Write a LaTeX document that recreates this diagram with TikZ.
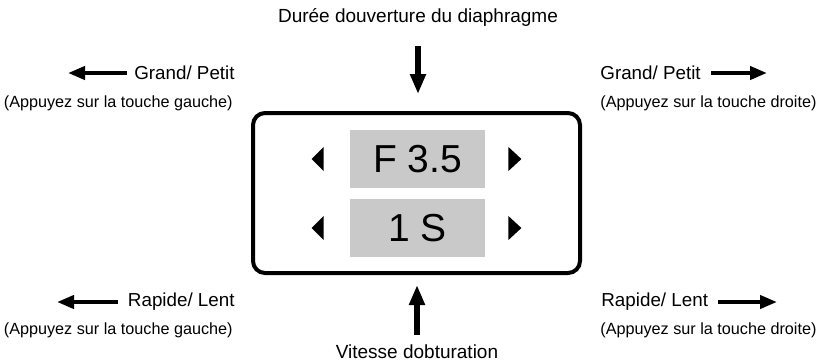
\documentclass[tikz,border=0pt]{standalone}
\usepackage{fontspec}
\setmainfont{Liberation Sans}
\usetikzlibrary{arrows.meta}

\tikzset{
  ttl/.style={font=\fontsize{9.5}{11}\selectfont, inner sep=0pt},
  lbl/.style={font=\fontsize{9.4}{11}\selectfont, inner sep=0pt},
  hint/.style={font=\fontsize{8.1}{10}\selectfont, inner sep=0pt},
  panel/.style={draw, line width=2pt, rounded corners=6pt, minimum width=163.5pt, minimum height=80pt},
  valbox/.style={fill=black!21, minimum width=67.5pt, minimum height=29pt, inner sep=0pt, font=\fontsize{19.5}{22}\selectfont},
  vptr/.style={line width=2.6pt, -{Triangle[length=10pt,width=7.5pt]}},
  hptr/.style={line width=2pt, -{Triangle[length=8.5pt,width=6.5pt]}},
}

\begin{document}
\begin{tikzpicture}[x=0.5pt,y=-0.5pt]
    \useasboundingbox (0,0) rectangle (829,361);

    % display panel
    \node[panel] (panel) at (416.5,193) {};
    \node[valbox] (fval) at (417.5,159) {F 3.5};
    \node[valbox] (sval) at (417.5,228) {1 S};
    \foreach \v in {fval,sval} {
        \fill ([xshift=-19pt]\v.west) -- ++(12,-12) -- ++(0,24) -- cycle;
        \fill ([xshift=18pt]\v.east) -- ++(-13,-12) -- ++(0,24) -- cycle;
    }

    % aperture / shutter
    \node[ttl] (ap) at (418,17) {Durée douverture du diaphragme};
    \node[ttl] (vo) at (417,352) {Vitesse dobturation};
    \draw[vptr, shorten <=10pt, shorten >=8.5pt] (ap.south) -- (ap.south |- panel.north);
    \draw[vptr, shorten <=5pt, shorten >=5pt] (vo.north) -- (vo.north |- panel.south);

    % left side
    \node[lbl, anchor=east] (gl) at (235,73) {Grand/ Petit};
    \node[hint, anchor=east] (glk) at (233,103) {(Appuyez sur la touche gauche)};
    \node[lbl, anchor=east] (rl) at (235,302) {Rapide/ Lent};
    \node[hint, anchor=east] (rlk) at (233,330) {(Appuyez sur la touche gauche)};
    \coordinate (gltip) at (68,73);
    \coordinate (rltip) at (57,302);
    \draw[hptr, shorten <=3.5pt] (gl.west) -- (gltip);
    \draw[hptr, shorten <=5pt] (rl.west) -- (rltip);

    % right side
    \node[lbl, anchor=west] (gr) at (600,73) {Grand/ Petit};
    \node[hint, anchor=west] (grk) at (600,103) {(Appuyez sur la touche droite)};
    \node[lbl, anchor=west] (rr) at (601,302) {Rapide/ Lent};
    \node[hint, anchor=west] (rrk) at (600,330) {(Appuyez sur la touche droite)};
    \coordinate (grtip) at (767,73);
    \coordinate (rrtip) at (777,302);
    \draw[hptr, shorten <=5pt] (gr.east) -- (grtip);
    \draw[hptr, shorten <=5pt] (rr.east) -- (rrtip);
\end{tikzpicture}
\end{document}
